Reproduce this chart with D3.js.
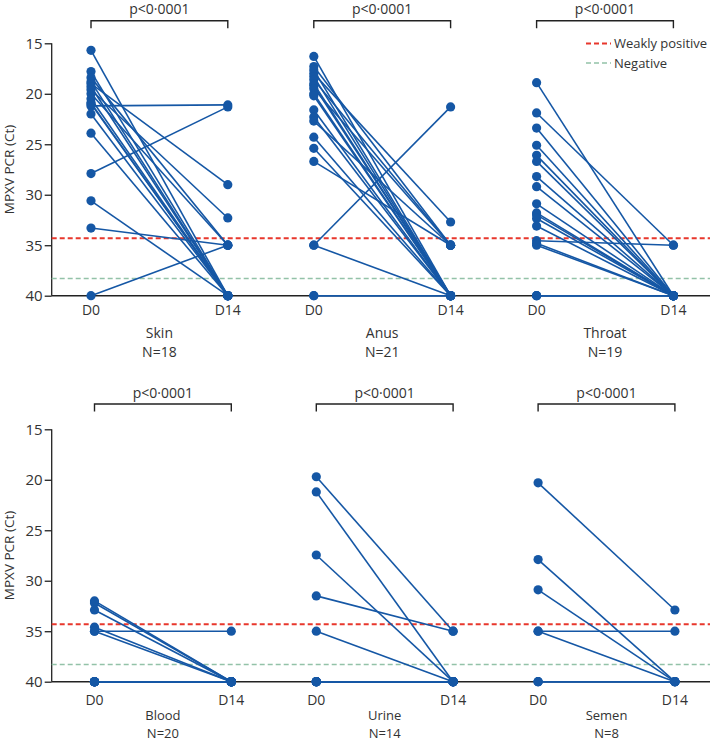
<!DOCTYPE html>
<html>
<head>
<meta charset="utf-8">
<script src="https://cdn.jsdelivr.net/npm/d3@7"></script>
<style>
  html, body { margin: 0; padding: 0; background: #fff; }
  svg { display: block; font-family: "Open Sans", sans-serif; }
</style>
</head>
<body>
<svg id="chart" width="710" height="741"></svg>
<script>
// ---- data ----
const days = ["D0", "D14"];
const yTicks = [15, 20, 25, 30, 35, 40];
const specimens = ["Skin", "Anus", "Throat", "Blood", "Urine", "Semen"];
const nLabels = ["N=18", "N=21", "N=19", "N=20", "N=14", "N=8"];
const pLabels = ["p<0·0001", "p<0·0001", "p<0·0001", "p<0·0001", "p<0·0001", "p<0·0001"];
const weaklyPositive = 34.3;
const negative = 38.3;
const legendLabels = ["Weakly positive", "Negative"];

const skinD0  = [15.7, 17.8, 18.4, 18.8, 19.0, 19.3, 19.6, 20.0, 20.5, 20.9, 21.2, 22.0, 23.9, 27.9, 30.6, 33.3, 40, 21.0];
const skinD14 = [40,   40,   35,   40,   29.0, 40,   32.3, 35,   40,   40,   21.1, 40,   40,   21.3, 40,   35,   35, 40];

const anusD0  = [16.3, 17.3, 17.65, 18.0, 18.3, 18.6, 19.0, 19.2, 19.5, 20.0, 20.2, 21.6, 22.3, 22.7, 24.3, 25.4, 26.7, 35, 35, 40, 40];
const anusD14 = [40,   35,   40,    32.7, 40,   35,   40,   40,   35,   40,   40,   40,   40,   35,   40,   40,   35,   21.3, 40, 40, 40];

const throatD0  = [18.9, 21.9, 23.4, 25.1, 26.1, 26.7, 28.2, 29.2, 30.9, 31.8, 32.0, 32.35, 33.1, 34.55, 34.8, 35, 40, 40, 40];
const throatD14 = [40,   35,   40,   40,   40,   40,   40,   40,   40,   40,   40,   40,    40,   35,    40,   40, 40, 40, 40];

const bloodD0  = [32.0, 32.2, 32.9, 34.6, 35, 35, 40, 40, 40, 40, 40, 40, 40, 40, 40, 40, 40, 40, 40, 40];
const bloodD14 = [40,   40,   40,   40,   35, 40, 40, 40, 40, 40, 40, 40, 40, 40, 40, 40, 40, 40, 40, 40];

const urineD0  = [19.7, 21.2, 27.45, 31.5, 35, 40, 40, 40, 40, 40, 40, 40, 40, 40];
const urineD14 = [35,   40,   40,    35,   40, 40, 40, 40, 40, 40, 40, 40, 40, 40];

const semenD0  = [20.3, 27.9, 30.9, 35, 35, 40, 40, 40];
const semenD14 = [32.9, 40,   40,   35, 40, 40, 40, 40];

const seriesD0 = [skinD0, anusD0, throatD0, bloodD0, urineD0, semenD0];
const seriesD14 = [skinD14, anusD14, throatD14, bloodD14, urineD14, semenD14];

// ---- layout ----
const W = 710;
const blue = "#1557a5";
const rows = [
  { top: 43.3, bottom: 295.7, first: 91, step: 222.8, pY: 13.5, brY: 20.7, dayY: 315, nameY: 338, nY: 357, lf: 14 },
  { top: 429.3, bottom: 681.7, first: 94.5, step: 221.8, pY: 398, brY: 404, dayY: 705, nameY: 719.5, nY: 738, lf: 13 }
];
const axisX = 51.7;
const pairWidth = 136.8;

const svg = d3.select("#chart");

rows.forEach((row, r) => {
  const y = d3.scaleLinear().domain([15, 40]).range([row.top, row.bottom]);
  const g = svg.append("g");

  // y axis
  const ax = g.append("g").attr("transform", `translate(${axisX},0)`)
    .call(d3.axisLeft(y).tickValues(yTicks).tickSize(7).tickPadding(2).tickFormat(d3.format("d")));
  ax.select(".domain").attr("stroke", "#222").attr("stroke-width", 1.3).attr("d", `M0,${row.top}V${row.bottom}`);
  ax.selectAll(".tick line").attr("stroke", "#222").attr("stroke-width", 1.3);
  ax.selectAll(".tick text").attr("font-size", 15).attr("fill", "#333").attr("font-family", "Open Sans, sans-serif");

  // axis title
  g.append("text")
    .attr("transform", `translate(13.5,${(row.top + row.bottom) / 2}) rotate(-90)`)
    .attr("text-anchor", "middle").attr("font-size", 13.5).attr("fill", "#333")
    .text("MPXV PCR (Ct)");

  // reference lines
  g.append("line").attr("x1", axisX).attr("x2", W)
    .attr("y1", y(weaklyPositive)).attr("y2", y(weaklyPositive))
    .attr("stroke", "#e8372c").attr("stroke-width", 2).attr("stroke-dasharray", "5,3");
  g.append("line").attr("x1", axisX).attr("x2", W)
    .attr("y1", y(negative)).attr("y2", y(negative))
    .attr("stroke", "#93c2a8").attr("stroke-width", 1.6).attr("stroke-dasharray", "5,3");

  // baseline
  g.append("line").attr("x1", axisX).attr("x2", W)
    .attr("y1", y(40)).attr("y2", y(40))
    .attr("stroke", "#222").attr("stroke-width", 1.5);

  for (let c = 0; c < 3; c++) {
    const i = r * 3 + c;
    const x0 = row.first + c * row.step;
    const x = d3.scalePoint().domain(days).range([x0, x0 + pairWidth]);
    const pg = g.append("g");
    const pairs = seriesD0[i].map((v, k) => ({ a: v, b: seriesD14[i][k] }));

    // bracket
    pg.append("path")
      .attr("d", `M${x("D0")},${row.brY + 7.5}V${row.brY}H${x("D14")}V${row.brY + 7.5}`)
      .attr("fill", "none").attr("stroke", "#222").attr("stroke-width", 1.4);
    pg.append("text").attr("x", (x("D0") + x("D14")) / 2).attr("y", row.pY)
      .attr("text-anchor", "middle").attr("font-size", 14).attr("fill", "#333")
      .text(pLabels[i]);

    // lines
    pg.selectAll("line.pair").data(pairs).join("line").attr("class", "pair")
      .attr("x1", x("D0")).attr("x2", x("D14"))
      .attr("y1", d => y(d.a)).attr("y2", d => y(d.b))
      .attr("stroke", blue).attr("stroke-width", 1.6);

    // dots
    pg.selectAll("circle.d0").data(pairs).join("circle").attr("class", "d0")
      .attr("cx", x("D0")).attr("cy", d => y(d.a)).attr("r", 4.6).attr("fill", blue);
    pg.selectAll("circle.d14").data(pairs).join("circle").attr("class", "d14")
      .attr("cx", x("D14")).attr("cy", d => y(d.b)).attr("r", 4.6).attr("fill", blue);

    // x labels
    days.forEach(d => {
      pg.append("text").attr("x", x(d)).attr("y", row.dayY)
        .attr("text-anchor", "middle").attr("font-size", 14).attr("fill", "#333").text(d);
    });
    pg.append("text").attr("x", (x("D0") + x("D14")) / 2).attr("y", row.nameY)
      .attr("text-anchor", "middle").attr("font-size", row.lf).attr("fill", "#333").text(specimens[i]);
    pg.append("text").attr("x", (x("D0") + x("D14")) / 2).attr("y", row.nY)
      .attr("text-anchor", "middle").attr("font-size", row.lf).attr("fill", "#333").text(nLabels[i]);
  }
});

// legend
const leg = svg.append("g");
const legColors = ["#e8372c", "#93c2a8"];
const legWidths = [2, 1.6];
legendLabels.forEach((lab, k) => {
  const ly = 43.5 + k * 19.5;
  leg.append("line").attr("x1", 586).attr("x2", 611).attr("y1", ly).attr("y2", ly)
    .attr("stroke", legColors[k]).attr("stroke-width", legWidths[k]).attr("stroke-dasharray", "5,3");
  leg.append("text").attr("x", 614).attr("y", ly + 4.5).attr("font-size", 13).attr("fill", "#333")
    .attr("textLength", lab.length > 10 ? 93 : null).text(lab);
});
</script>
</body>
</html>
